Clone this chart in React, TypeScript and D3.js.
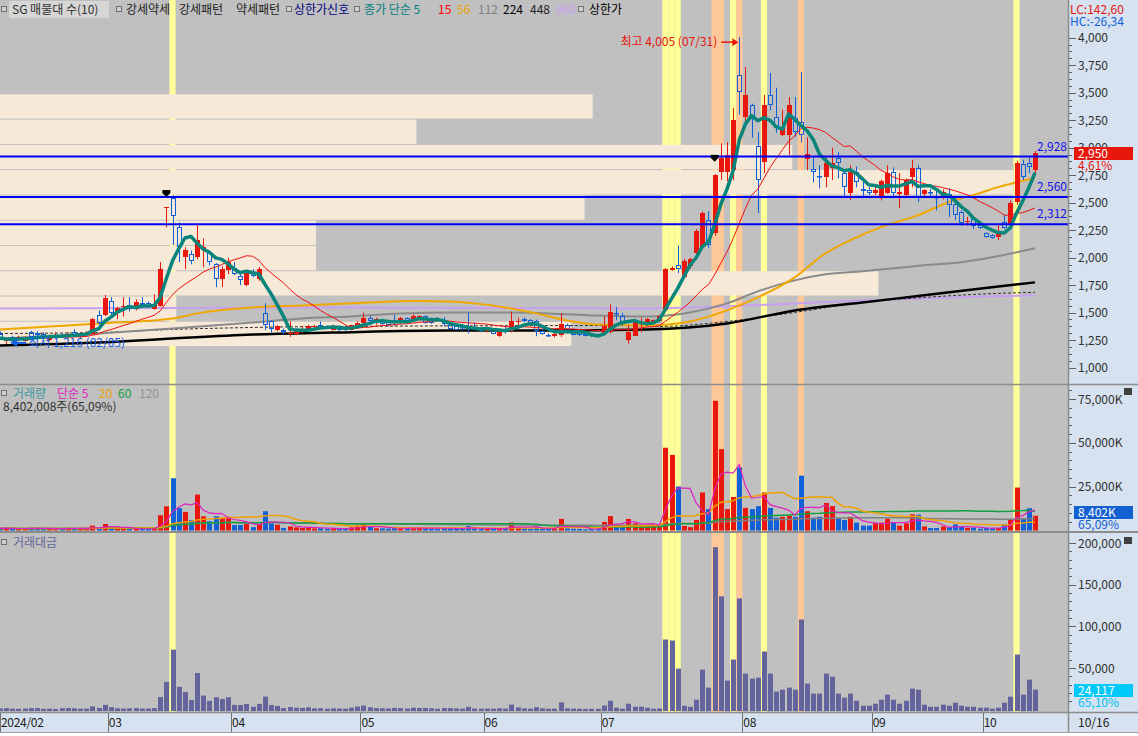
import React from "react";
import * as d3 from "d3";

const W = 1138;
const H = 736;
const PLOT_R = 1068;
const FONT = '"Noto Sans CJK KR", "Noto Sans", sans-serif';
const RED = "#e8160c";
const BLUE = "#1060d8";

// daily candles [open, high, low, close], 2024-02-02 .. 2024-10-16
const candles: [number, number, number, number][] = [
  [1310,1330,1250,1270],[1240,1260,1216,1250],[1275,1290,1235,1245],[1250,1290,1240,1275],[1245,1285,1235,1270],
  [1320,1335,1260,1280],[1315,1330,1280,1295],[1305,1320,1260,1270],[1250,1300,1240,1290],[1285,1320,1270,1290],
  [1295,1310,1270,1285],[1275,1320,1265,1310],[1320,1350,1285,1295],[1280,1320,1270,1310],[1295,1330,1280,1315],
  [1310,1450,1300,1440],[1480,1520,1390,1405],[1475,1660,1470,1635],
  [1610,1640,1470,1500],[1495,1555,1440,1545],[1550,1640,1465,1560],[1565,1640,1510,1530],[1530,1620,1520,1595],
  [1585,1640,1560,1570],[1585,1600,1545,1550],[1530,1665,1525,1575],[1560,1960,1555,1895],[2460,2460,2275,2460],
  [2540,2570,2115,2375],[2275,2320,1960,2095],[2005,2095,1895,2065],[2030,2065,1940,1965],[2005,2295,1985,2160],
  [2075,2175,1910,2095],[2040,2065,1930,1960],[1940,1950,1730,1810],[1810,1920,1730,1895],[1885,2000,1850,1960],
  [1910,1960,1840,1855],[1830,1865,1750,1795],[1750,1885,1740,1875],[1865,1895,1820,1830],[1810,1915,1790,1900],
  [1500,1585,1340,1390],[1420,1430,1320,1355],[1340,1385,1330,1375],[1345,1355,1300,1320],[1305,1420,1280,1315],
  [1310,1350,1295,1340],[1320,1380,1310,1345],[1340,1390,1330,1375],[1370,1390,1350,1375],[1390,1420,1355,1365],
  [1370,1385,1355,1360],[1345,1390,1340,1375],[1365,1385,1335,1345],[1360,1375,1330,1340],[1345,1390,1340,1385],
  [1365,1420,1355,1410],
  [1410,1500,1400,1455],[1455,1470,1400,1420],[1435,1455,1390,1440],[1430,1445,1390,1400],[1420,1430,1375,1385],
  [1430,1480,1380,1425],[1410,1460,1400,1450],[1450,1460,1410,1420],[1440,1485,1430,1465],[1440,1475,1430,1470],
  [1465,1475,1400,1410],[1445,1455,1400,1410],[1440,1460,1420,1435],[1430,1460,1375,1400],[1390,1410,1350,1355],
  [1375,1390,1340,1345],[1365,1400,1340,1360],[1375,1500,1310,1365],[1370,1410,1340,1360],[1360,1370,1325,1330],
  [1335,1370,1320,1365],[1345,1355,1305,1310],[1285,1345,1280,1340],[1340,1375,1310,1335],[1330,1510,1320,1420],
  [1415,1455,1365,1420],[1440,1455,1415,1420],[1430,1440,1395,1400],[1425,1435,1285,1330],[1335,1345,1300,1310],
  [1300,1310,1280,1285],[1285,1320,1275,1310],[1295,1495,1280,1400],[1385,1400,1310,1320],[1330,1340,1295,1300],
  [1335,1345,1285,1295],[1310,1320,1285,1290],[1305,1315,1280,1285],[1300,1305,1270,1275],
  [1310,1465,1300,1375],[1320,1575,1310,1510],[1500,1550,1430,1490],[1470,1500,1380,1400],[1255,1385,1220,1320],
  [1290,1440,1285,1420],[1410,1455,1320,1415],[1390,1450,1380,1440],[1410,1440,1400,1430],[1420,1475,1410,1465],
  [1520,1905,1510,1900],[1890,1920,1880,1905],[1930,2110,1860,1900],[1820,1990,1810,1965],[1920,2000,1900,1985],
  [2045,2260,2030,2240],[2095,2420,2080,2410],[2345,2420,2090,2115],[2220,2760,2200,2750],[2780,3040,2705,2905],
  [2780,3050,2695,2935],[2795,3360,2705,3250],[3660,4005,3300,3510],
  [3280,3735,3225,3480],[3390,3400,3090,3280],[3015,3140,2405,2705],[2870,3480,2770,3390],[3480,3680,3340,3390],
  [3280,3545,3135,3180],[3115,3345,3105,3180],[3115,3460,2935,3390],[3270,3460,3100,3145],[3235,3690,3050,3115],
  [2900,3095,2795,2940],[2805,2915,2685,2780],[2740,2840,2630,2730],[2730,2910,2640,2860],[2815,3000,2705,2860],
  [2905,2960,2720,2860],[2770,2805,2550,2640],[2590,2840,2525,2780],[2780,2830,2640,2690],[2620,2705,2540,2610],
  [2615,2640,2570,2590],
  [2590,2650,2570,2615],[2545,2710,2520,2695],[2590,2840,2580,2770],[2780,2820,2540,2585],[2580,2770,2450,2595],
  [2570,2720,2550,2705],[2735,2890,2640,2815],[2815,2840,2505,2540],[2580,2620,2545,2615],[2600,2625,2560,2590],
  [2555,2615,2430,2540],[2560,2620,2530,2600],[2580,2630,2370,2480],[2490,2540,2340,2385],[2415,2430,2290,2315],
  [2325,2370,2290,2335],[2350,2360,2260,2285],[2295,2310,2260,2270],
  [2220,2230,2180,2185],[2205,2215,2170,2180],[2185,2295,2160,2220],[2320,2390,2260,2270],[2310,2520,2290,2495],
  [2505,2880,2480,2860],[2850,2890,2705,2735],[2860,2905,2770,2820],[2800,2970,2750,2950],
];

// volume, thousand shares
const volumes: number[] = [
  1200,1500,1000,900,1100,1500,1500,900,1000,700,1400,1500,1300,900,1000,2800,1400,3700,
  1900,1100,900,1100,1200,900,900,1200,8700,13800,29800,12800,10600,5900,20500,8100,5300,8100,7000,7800,
  3100,3100,3700,1900,3700,11000,4000,3300,1500,2300,1800,1500,2000,1200,1300,900,1200,1000,900,1800,2800,
  3500,2000,1300,1200,1100,1500,1300,1000,1600,1400,1500,1200,800,1500,1400,1100,900,2500,1000,900,
  1000,900,1300,1000,4500,2000,1200,900,2200,1200,900,1000,6600,1200,1000,900,700,800,900,
  4900,8200,3200,2600,6600,4100,3200,2600,2900,2600,47200,43100,25100,2600,1900,6000,21700,12200,74000,46400,
  12200,19100,36000,
  12900,12200,13900,21700,12900,7300,7800,8400,7800,31300,11000,7300,7800,15700,13900,6900,6000,7800,4500,2800,2800,
  4100,4500,6700,4500,2800,4100,9200,9000,2300,1400,1400,2300,1900,3500,2000,1500,1600,1050,
  1500,1300,1400,3600,6500,24500,6400,12700,8402,
];

// trading value, million KRW
const amounts: number[] = [
  1500,1900,1250,1150,1400,1900,1950,1150,1300,900,1800,1950,1700,1200,1300,3900,2000,5800,
  3000,1700,1400,1700,1900,1400,1400,1900,15200,33400,72000,27500,21200,11800,44000,17000,10600,15000,13000,15000,
  5800,5600,6800,3500,6900,15700,5500,4500,2000,3100,2400,2100,2800,1650,1800,1200,1650,1350,1200,2450,3900,
  5000,2900,1900,1700,1500,2100,1900,1450,2350,2050,2150,1700,1150,2100,1900,1500,1250,3400,1350,1200,
  1350,1200,1700,1350,6100,2800,1700,1250,3000,1600,1150,1300,8800,1600,1300,1150,900,1050,1150,
  5000,10800,2400,1200,7200,3600,3600,2400,1200,1500,84200,83000,49300,4800,3600,12000,48100,26500,195000,136000,
  34900,60200,133600,
  43300,37300,38500,69800,43300,21700,24000,26500,24000,108300,31300,19300,19300,43300,39700,19300,14400,19300,10800,4800,4800,
  7200,12000,18000,12000,7200,10800,25300,24000,6000,3600,3600,6000,4800,8400,4800,3600,3600,2400,
  2400,1200,2400,8400,15600,66200,18000,36100,24117,
];

const monthStarts = [0, 18, 38, 59, 79, 98, 121, 142, 160];
const monthNames = ["2024/02", "03", "04", "05", "06", "07", "08", "09", "10"];
const lastDate = "10/16";

const yellowBars = [28, 108, 109, 110, 119, 124, 165];
const orangeBars = [116, 117, 120, 130];

// SG price-volume profile (10 bins), relative volume per price bin, bottom to top
const profileLow = 1196;
const profileStep = 229.8;
const profileShare = [56.4, 17.4, 86.7, 31.2, 31.2, 57.7, 100, 78.2, 41.1, 58.5];

const levelLines = [2928, 2560, 2312];
const patternMarks = [{ i: 27, p: 2560 }, { i: 116, p: 2880 }];

// long moving averages: [bar index, price]
const ma56: [number, number][] = [
  [0,1347],[8,1374],[16,1401],[28,1447],[32,1493],[41,1547],[49,1565],[60,1593],[67,1605],[73,1602],[77,1584],
  [82,1547],[87,1493],[92,1429],[97,1392],[105,1383],[112,1420],[118,1520],[123,1638],[129,1821],[134,2040],
  [138,2158],[143,2277],[149,2386],[154,2505],[159,2587],[162,2641],[168,2724],
];
const ma112: [number, number][] = [
  [0,1265],[16,1310],[28,1356],[41,1410],[49,1447],[57,1465],[65,1493],[73,1502],[81,1502],[89,1493],[97,1474],
  [105,1465],[112,1502],[118,1584],[123,1693],[129,1793],[134,1848],[140,1876],[145,1903],[150,1930],[156,1958],
  [161,2003],[168,2085],
];
const ma224: [number, number][] = [
  [0,1201],[16,1228],[28,1265],[41,1301],[54,1319],[73,1338],[89,1338],[105,1347],[118,1401],[129,1520],
  [140,1593],[150,1657],[161,1730],[168,1775],
];
const ma448: [number, number][] = [
  [0,1310],[16,1319],[28,1347],[41,1365],[54,1374],[105,1383],[107,1374],[118,1420],[129,1502],[140,1593],
  [150,1638],[162,1675],[168,1684],
];
const ma960: [number, number][] = [
  [0,1538],[54,1547],[105,1538],[118,1556],[129,1584],[140,1611],[150,1629],[161,1648],[168,1657],
];

function sma(arr: number[], n: number): number[] {
  return arr.map((_, i) => d3.mean(arr.slice(Math.max(0, i - n + 1), i + 1)) as number);
}

export default function App() {
  const x = d3.scaleLinear().domain([0, 168]).range([0, 1035]);
  const bw = x(1) - x(0);
  const yP = d3.scaleLinear().domain([1000, 4000]).range([367.6, 37.7]);
  const yV = d3.scaleLinear().domain([0, 75000]).range([530.5, 399]);
  const yA = d3.scaleLinear().domain([0, 200000]).range([709.7, 543]);
  const profX = d3.scaleLinear().domain([0, 100]).range([0, x(164.45)]);

  const closes = candles.map((c) => c[3]);
  const ma5 = sma(closes, 5);
  const ma15 = sma(closes, 15);
  const vma5 = sma(volumes, 5);
  const vma20 = sma(volumes, 20);
  const vma60 = sma(volumes, 60);
  const vma120 = sma(volumes, 120);

  const idxLine = (ys: d3.ScaleLinear<number, number>) =>
    d3.line<number>().x((_, i) => x(i)).y((d) => ys(d));
  const sampleLine = d3
    .line<[number, number]>()
    .x((d) => x(d[0]))
    .y((d) => yP(d[1]))
    .curve(d3.curveMonotoneX);

  const fmt = d3.format(",");
  const priceTicks = d3.range(1000, 4001, 250);
  const priceMinor = d3.range(1000, 4001, 62.5).filter((v) => v % 250 !== 0);
  const volTicks = d3.range(25000, 75001, 25000);
  const volMinor = d3.range(5000, 80001, 5000).filter((v) => v % 25000 !== 0 && yV(v) > 390);
  const amtTicks = d3.range(50000, 200001, 50000);
  const amtMinor = d3.range(10000, 210001, 10000).filter((v) => v % 50000 !== 0 && yA(v) > 536);

  const sq = (px: number, py: number, k: string) => (
    <rect key={k} x={px + 0.5} y={py + 0.5} width={5} height={5} fill="#d0d0d0" stroke="#707070" strokeWidth={1} />
  );

  const txt = (tx: number, ty: number, s: string, color: string, k: string, extra: any = {}) => (
    <text key={k} x={tx} y={ty} fill={color} fontSize={12} {...extra}>
      {s}
    </text>
  );

  return (
    <div style={{ width: W, height: H }}>
      <style>{`html,body{margin:0;padding:0;background:#fff;overflow:hidden}`}</style>
      <svg width={W} height={H} style={{ display: "block" }} fontFamily={FONT}>
        <defs>
          <clipPath id="plotClip">
            <rect x={0} y={0} width={PLOT_R} height={712} />
          </clipPath>
        </defs>
        <rect x={0} y={0} width={W} height={H} fill="#ffffff" />
        <rect x={0} y={0} width={PLOT_R} height={712} fill="#c0c0c0" />
        <rect x={PLOT_R} y={0} width={W - PLOT_R} height={732} fill="#d6e2ef" />
        <rect x={0} y={712} width={PLOT_R} height={20} fill="#d6e2ef" />

        <g clipPath="url(#plotClip)">
          {/* highlight columns */}
          {yellowBars.map((i) => (
            <rect key={"yb" + i} x={x(i) - bw / 2} y={0} width={bw} height={712} fill="#ffff99" />
          ))}
          {orangeBars.map((i) => (
            <rect key={"ob" + i} x={x(i) - bw / 2} y={0} width={bw} height={712} fill="#ffc896" />
          ))}

          {/* price volume profile */}
          {profileShare.map((s, k) => {
            const lo = profileLow + k * profileStep;
            const top = yP(lo + profileStep);
            const bot = yP(lo);
            return (
              <rect key={"pf" + k} x={0} y={top + 1} width={profX(s)} height={bot - top - 1} fill="#f6e9d7" />
            );
          })}

          {/* long MAs */}
          <path d={sampleLine(ma960) || ""} fill="none" stroke="#c8a0f0" strokeWidth={2} />
          <path d={sampleLine(ma448) || ""} fill="none" stroke="#303030" strokeWidth={1} strokeDasharray="3,2" />
          <path d={sampleLine(ma224) || ""} fill="none" stroke="#000000" strokeWidth={2.5} />
          <path d={sampleLine(ma112) || ""} fill="none" stroke="#8a8a8a" strokeWidth={2} />
          <path d={sampleLine(ma56) || ""} fill="none" stroke="#f0a800" strokeWidth={2} />

          {/* candles */}
          {candles.map(([o, h, l, c], i) => {
            const cx = Math.round(x(i)) + 0.5;
            const up = c >= o;
            const top = Math.round(yP(Math.max(o, c)));
            const bot = Math.round(yP(Math.min(o, c)));
            if (up) {
              return (
                <g key={"c" + i}>
                  <line x1={cx} x2={cx} y1={yP(h)} y2={yP(l)} stroke={RED} strokeWidth={1} />
                  <rect x={cx - 2.5} y={top} width={5} height={Math.max(1, bot - top)} fill={RED} />
                </g>
              );
            }
            return (
              <g key={"c" + i}>
                <line x1={cx} x2={cx} y1={yP(h)} y2={top} stroke={BLUE} strokeWidth={1} />
                <line x1={cx} x2={cx} y1={bot} y2={yP(l)} stroke={BLUE} strokeWidth={1} />
                <rect x={cx - 2} y={top + 0.5} width={4} height={Math.max(0.5, bot - top - 1)} fill="none" stroke={BLUE} strokeWidth={1} />
              </g>
            );
          })}

          {/* short MAs */}
          <path d={idxLine(yP)(ma15) || ""} fill="none" stroke="#f01010" strokeWidth={1} />
          <path d={idxLine(yP)(ma5) || ""} fill="none" stroke="#07857a" strokeWidth={3.5} strokeLinejoin="round" />

          {/* level lines */}
          {levelLines.map((v) => (
            <line key={"lv" + v} x1={0} x2={PLOT_R} y1={yP(v) + 1} y2={yP(v) + 1} stroke="#0000f0" strokeWidth={2} />
          ))}

          {/* pattern markers */}
          {patternMarks.map((m) => {
            const mx = x(m.i);
            const my = yP(m.p);
            return (
              <g key={"pm" + m.i}>
                <rect x={mx - 4} y={my - 6} width={8} height={3} fill="#000" />
                <path d={`M${mx - 4},${my - 3}L${mx + 4},${my - 3}L${mx},${my + 1}Z`} fill="#000" />
              </g>
            );
          })}

          {/* extreme labels */}
          <text x={x(120) - 22} y={yP(4005) + 9} fill="#e8160c" fontSize={12} textAnchor="end">
            최고 4,005 (07/31)
          </text>
          <line x1={x(120) - 18} x2={x(120) - 6} y1={yP(4005) + 5} y2={yP(4005) + 5} stroke="#e8160c" strokeWidth={1.5} />
          <path d={`M${x(120) - 7},${yP(4005) + 1}L${x(120) - 1},${yP(4005) + 5}L${x(120) - 7},${yP(4005) + 9}Z`} fill="#e8160c" />

          <path d={`M${x(1) + 4},${yP(1216) - 1}L${x(1) + 11},${yP(1216) - 5}L${x(1) + 11},${yP(1216) + 3}Z`} fill="#1060e8" />
          <line x1={x(1) + 10} x2={x(1) + 20} y1={yP(1216) - 1} y2={yP(1216) - 1} stroke="#1060e8" strokeWidth={2} />
          <text x={x(1) + 22} y={yP(1216) + 3} fill="#1060e8" fontSize={12}>
            최저 1,216 (02/05)
          </text>

          {/* volume bars */}
          {volumes.map((v, i) => {
            const [o, , , c] = candles[i];
            return (
              <rect key={"v" + i} x={Math.round(x(i)) - 2} y={yV(v)} width={5} height={yV(0) - yV(v)} fill={c >= o ? RED : BLUE} />
            );
          })}
          <path d={idxLine(yV)(vma120) || ""} fill="none" stroke="#808080" strokeWidth={1.5} />
          <path d={idxLine(yV)(vma60) || ""} fill="none" stroke="#10a040" strokeWidth={1.5} />
          <path d={idxLine(yV)(vma20) || ""} fill="none" stroke="#f0a000" strokeWidth={1.5} />
          <path d={idxLine(yV)(vma5) || ""} fill="none" stroke="#e020c0" strokeWidth={1.2} />

          {/* amount bars */}
          {amounts.map((a, i) => (
            <rect key={"a" + i} x={Math.round(x(i)) - 2} y={yA(a)} width={5} height={711 - yA(a)} fill="#64649c" />
          ))}
        </g>

        {/* level labels */}
        {levelLines.map((v) => (
          <text key={"lt" + v} x={1037} y={yP(v) - 5} fill="#1010f0" fontSize={12}>
            {fmt(v)}
          </text>
        ))}

        {/* panel separators */}
        <line x1={0} x2={W} y1={384.5} y2={384.5} stroke="#8c8c8c" strokeWidth={1.5} />
        <line x1={0} x2={W} y1={532} y2={532} stroke="#8c8c8c" strokeWidth={2} />
        <line x1={0} x2={W} y1={712.5} y2={712.5} stroke="#8c8c8c" strokeWidth={1.5} />
        <line x1={0} x2={W} y1={732.5} y2={732.5} stroke="#a0a0a0" strokeWidth={1} />
        <line x1={PLOT_R + 0.5} x2={PLOT_R + 0.5} y1={0} y2={732} stroke="#8c8c8c" strokeWidth={1.5} />

        {/* price axis */}
        {priceMinor.map((v) => (
          <line key={"pm" + v} x1={1069} x2={1072} y1={Math.round(yP(v)) + 0.5} y2={Math.round(yP(v)) + 0.5} stroke="#606060" />
        ))}
        {priceTicks.map((v) => (
          <g key={"pt" + v}>
            <line x1={1069} x2={1076} y1={Math.round(yP(v)) + 0.5} y2={Math.round(yP(v)) + 0.5} stroke="#606060" />
            <text x={1078} y={yP(v) + 4.5} fill="#303030" fontSize={12}>
              {fmt(v)}
            </text>
          </g>
        ))}
        {volMinor.map((v) => (
          <line key={"vm" + v} x1={1069} x2={1072} y1={Math.round(yV(v)) + 0.5} y2={Math.round(yV(v)) + 0.5} stroke="#606060" />
        ))}
        {volTicks.map((v) => (
          <g key={"vt" + v}>
            <line x1={1069} x2={1076} y1={Math.round(yV(v)) + 0.5} y2={Math.round(yV(v)) + 0.5} stroke="#606060" />
            <text x={1078} y={yV(v) + 4.5} fill="#303030" fontSize={12}>
              {fmt(v)}K
            </text>
          </g>
        ))}
        {amtMinor.map((v) => (
          <line key={"am" + v} x1={1069} x2={1072} y1={Math.round(yA(v)) + 0.5} y2={Math.round(yA(v)) + 0.5} stroke="#606060" />
        ))}
        {amtTicks.map((v) => (
          <g key={"at" + v}>
            <line x1={1069} x2={1076} y1={Math.round(yA(v)) + 0.5} y2={Math.round(yA(v)) + 0.5} stroke="#606060" />
            <text x={1078} y={yA(v) + 4.5} fill="#303030" fontSize={12}>
              {fmt(v)}
            </text>
          </g>
        ))}

        {/* current value boxes */}
        <rect x={1074} y={147} width={59} height={13} fill="#e8160c" />
        <text x={1078} y={158} fill="#ffffff" fontSize={12}>2,950</text>
        <text x={1078} y={170} fill="#e8160c" fontSize={12}>4,61%</text>
        <rect x={1074} y={506} width={59} height={13} fill="#1560d0" />
        <text x={1078} y={517} fill="#ffffff" fontSize={12}>8,402K</text>
        <text x={1078} y={529} fill="#1560d0" fontSize={12}>65,09%</text>
        <rect x={1074} y={684} width={59} height={13} fill="#00c8f8" />
        <text x={1078} y={695} fill="#ffffff" fontSize={12}>24,117</text>
        <text x={1078} y={707} fill="#00c0f0" fontSize={12}>65,10%</text>

        <text x={1070} y={13.5} fill="#e8160c" fontSize={12}>LC:142,60</text>
        <text x={1070} y={25.5} fill="#1060d8" fontSize={12}>HC:-26,34</text>

        {/* panel icons */}
        <rect x={1124} y={388} width={8} height={7} fill="#404040" />
        <rect x={1124} y={537} width={8} height={7} fill="#404040" />

        {/* x axis */}
        {monthStarts.map((i, k) => {
          const sx = Math.max(0, x(i) - bw / 2);
          return (
            <g key={"m" + k}>
              <line x1={Math.round(sx) + 0.5} x2={Math.round(sx) + 0.5} y1={713} y2={732} stroke="#707070" />
              <text x={sx + 1} y={727} fill="#202020" fontSize={12} letterSpacing={-0.3}>
                {monthNames[k]}
              </text>
            </g>
          );
        })}
        <text x={1078} y={727} fill="#202020" fontSize={12}>{lastDate}</text>

        {/* price legend */}
        {sq(1, 6, "s1")}
        <rect x={9} y={1} width={100} height={17} fill="#d6d6d6" />
        {txt(12, 14, "SG 매물대 수(10)", "#303030", "t1")}
        {sq(116, 6, "s2")}
        {txt(126, 14, "강세약세", "#202020", "t2")}
        {txt(179, 14, "강세패턴", "#202020", "t3")}
        {txt(236, 14, "약세패턴", "#202020", "t4")}
        {sq(286, 6, "s3")}
        {txt(294, 14, "상한가신호", "#000080", "t5")}
        {sq(354, 6, "s4")}
        {txt(364, 14, "종가 단순 5", "#008080", "t6")}
        {txt(438, 14, "15", "#ff0000", "t7")}
        {txt(457, 14, "56", "#f0a000", "t8")}
        {txt(478, 14, "112", "#808080", "t9")}
        {txt(503, 14, "224", "#000000", "t10")}
        {txt(530, 14, "448", "#202020", "t11")}
        {txt(556, 14, "960", "#c8a0f0", "t12")}
        {sq(578, 6, "s5")}
        {txt(589, 14, "상한가", "#000000", "t13")}

        {/* volume legend */}
        {sq(1, 390, "s6")}
        {txt(13, 398, "거래량", "#3a9a9a", "v1")}
        {txt(57, 398, "단순 5", "#e020c0", "v2")}
        {txt(99, 398, "20", "#f0a000", "v3")}
        {txt(118, 398, "60", "#10a040", "v4")}
        {txt(139, 398, "120", "#909090", "v5")}
        {txt(3, 411, "8,402,008주(65,09%)", "#303030", "v6")}

        {/* amount legend */}
        {sq(1, 539, "s7")}
        {txt(13, 547, "거래대금", "#64649c", "a1")}
      </svg>
    </div>
  );
}
